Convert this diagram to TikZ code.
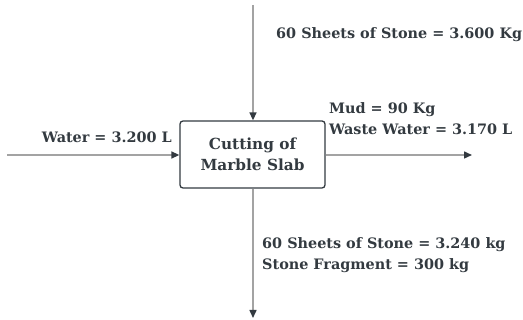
\documentclass[tikz,border=0pt]{standalone}
\usepackage{fontspec}
\setmainfont{DejaVu Serif}
\usetikzlibrary{arrows.meta}
\definecolor{txt}{HTML}{333A40}
\definecolor{ln}{HTML}{A3A3A3}
\definecolor{tip}{HTML}{333A40}
\begin{document}
\begin{tikzpicture}[x=1pt,y=-1pt,
  lbl/.style={font=\bfseries\fontsize{14.4}{21}\selectfont, text=txt, inner sep=0pt, align=left},
  proc/.style={draw=txt, line width=1.3pt, rounded corners=3pt, minimum width=145pt, minimum height=67pt, align=center, font=\bfseries\fontsize{15.3}{21}\selectfont, text=txt},
  flow/.style={draw=ln, line width=1.5pt, -{Triangle[length=8pt,width=7pt,fill=tip,color=tip]}}]
\useasboundingbox (0,0) rectangle (523,320);
\node[proc] (box) at (252.5,154.5) {Cutting of\\Marble Slab};
\coordinate (topin) at (253,5);
\coordinate (leftin) at (7,155);
\coordinate (rightout) at (472,155);
\coordinate (botout) at (253,318);
\draw[flow] (topin) -- (box.north -| topin);
\draw[flow] (leftin) -- (box.west |- leftin);
\draw[flow] (box.east |- rightout) -- (rightout);
\draw[flow] (box.south -| botout) -- (botout);
\node[lbl, anchor=west] (t1) at (276,35) {60 Sheets of Stone = 3.600 Kg};
\node[lbl, anchor=west] (t2) at (329,118.5) {Mud = 90 Kg\\Waste Water = 3.170 L};
\node[lbl, anchor=east] (t3) at (172,137) {Water = 3.200 L};
\node[lbl, anchor=west] (t4) at (262,255.5) {60 Sheets of Stone = 3.240 kg\\Stone Fragment = 300 kg};
\end{tikzpicture}
\end{document}
